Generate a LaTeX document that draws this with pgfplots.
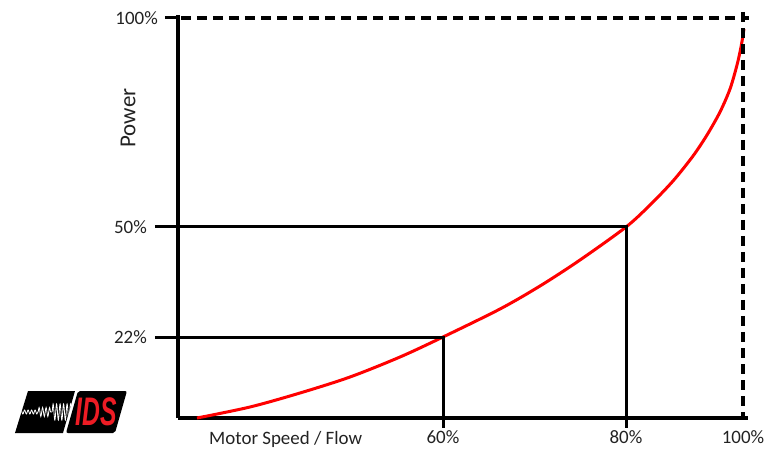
\documentclass[border=0pt]{standalone}
\usepackage{fontspec}
\setmainfont{Carlito}
\newfontfamily\logofont{Liberation Sans}
\usepackage{pgfplots}
\pgfplotsset{compat=1.18}
\usetikzlibrary{decorations.pathmorphing}
\definecolor{curvered}{HTML}{FF0000}
\definecolor{logored}{HTML}{ED1C24}
\definecolor{txt}{HTML}{222222}
\begin{document}
\begin{tikzpicture}
\begin{axis}[
  scale only axis, width=570bp, height=403bp,
  xmin=178, xmax=748, ymin=0, ymax=403,
  axis x line=bottom, axis y line=left,
  axis line style={-, line width=3.5bp, black},
  clip=false,
  major tick length=0pt,
  xtick={443,626,743}, xticklabels={60\%,80\%,100\%},
  ytick={81,191}, yticklabels={22\%\kern31bp,50\%\kern31bp},
  extra y ticks={400}, extra y tick labels={100\%\kern20bp},
  ticklabel style={font=\fontsize{19}{19}\selectfont, text=txt, inner sep=0pt},
  xticklabel style={anchor=base, yshift=-25bp},
  yticklabel style={anchor=east},
]
% curve
\addplot[curvered, line width=3bp, smooth, tension=0.5] coordinates {
 (197,0) (250,11) (300,25) (350,41) (400,61) (443,81) (500,109) (540,132)
 (580,158) (626,191) (650,213) (673,237) (693,262) (707,283) (720,306)
 (730,329) (737,353) (741,371) (744,389)};
% guide lines
\addplot[black, line width=3bp] coordinates {(155,81) (443,81) (443,-10)};
\addplot[black, line width=3bp] coordinates {(155,191) (626,191) (626,-10)};
\addplot[black, line width=3bp] coordinates {(165,400) (178,400)};
\addplot[black, line width=3.5bp, dash pattern=on 10bp off 6bp] coordinates {(181,400) (749,400)};
\addplot[black, line width=3.5bp, dash pattern=on 10bp off 6bp] coordinates {(743,406) (743,0)};
% labels
\node[rotate=90, font=\fontsize{23}{23}\selectfont, text=txt] at (axis cs:128,300) {Power};
\node[anchor=base west, inner sep=0pt, font=\fontsize{19}{19}\selectfont, text=txt] at (axis cs:209,-26) {Motor Speed / Flow};
% logo
\fill[black] (axis cs:28,27) -- (axis cs:75,27) -- (axis cs:63,-15) -- (axis cs:15,-15) -- cycle;
\begin{scope}
\clip (axis cs:28,27) -- (axis cs:75,27) -- (axis cs:63,-15) -- (axis cs:15,-15) -- cycle;
\draw[white, line width=0.8bp, decorate, decoration={snake, amplitude=2bp, segment length=3.5bp}] (axis cs:20,6) -- (axis cs:38,6);
\draw[white, line width=0.8bp, decorate, decoration={snake, amplitude=4.5bp, segment length=3.5bp}] (axis cs:38,6) -- (axis cs:52,6);
\draw[white, line width=0.8bp, decorate, decoration={snake, amplitude=8bp, segment length=3.5bp}] (axis cs:52,6) -- (axis cs:72,6);
\end{scope}
\fill[black, rounded corners=2bp] (axis cs:78,27) -- (axis cs:127,27) -- (axis cs:115,-15) -- (axis cs:66,-15) -- cycle;
\node[inner sep=0pt, xscale=0.62, text=logored, font=\logofont\bfseries\itshape\fontsize{40}{40}\selectfont] at (axis cs:96,6) {IDS};
\path (axis cs:0,-30) rectangle (axis cs:769,418);
\end{axis}
\end{tikzpicture}
\end{document}
